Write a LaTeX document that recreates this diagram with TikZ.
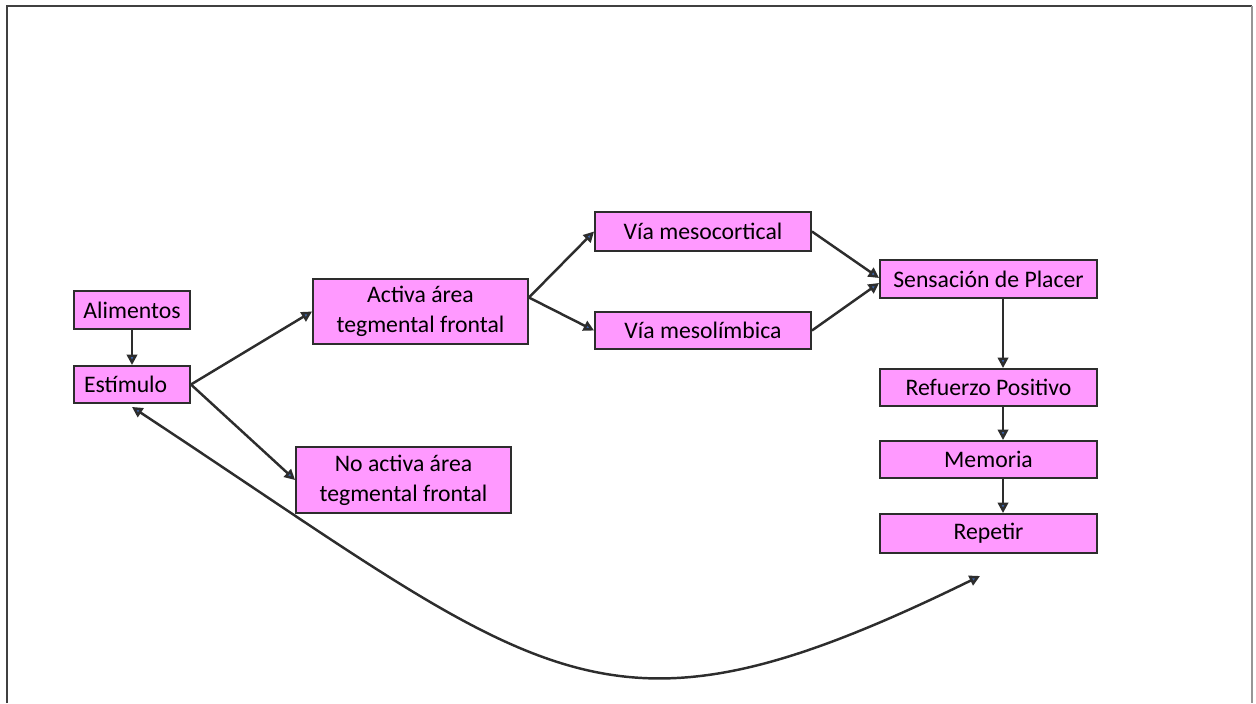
\documentclass[tikz,border=0pt]{standalone}
\usepackage{fontspec}
\setmainfont{Carlito}
\usetikzlibrary{arrows.meta}
\definecolor{boxfill}{RGB}{255,153,255}
\definecolor{boxline}{RGB}{45,45,45}
\definecolor{tipblue}{RGB}{60,100,170}
\definecolor{frameline}{RGB}{64,64,64}
\definecolor{frameside}{RGB}{150,150,150}
\begin{document}
\begin{tikzpicture}[x=0.02cm,y=-0.02cm,
  box/.style={draw=boxline,fill=boxfill,line width=1.1pt,inner sep=0pt,
    font=\fontsize{13.5}{17}\selectfont,align=center},
  tip/.style={Triangle[length=6pt,width=6pt,fill=tipblue]},
  conn/.style={draw=boxline,line width=1.4pt,-{Triangle[length=6pt,width=6pt,fill=tipblue]}},
  both/.style={draw=boxline,line width=1.4pt,
    {Triangle[length=6pt,width=6pt,fill=tipblue]}-{Triangle[length=6pt,width=6pt,fill=tipblue]}}]
\useasboundingbox (0,0) rectangle (1256,703);
% page frame
\draw[frameline,line width=0.04cm] (7,703) -- (7,6) -- (1252,6);
\draw[frameside,line width=0.04cm] (1252,6) -- (1252,703);

% boxes
\node[box,minimum width=2.32cm,minimum height=0.76cm] (ali) at (132,310) {Alimentos};
\node[box,minimum width=2.32cm,minimum height=0.74cm,text width=1.92cm,align=left] (est) at (132,384.5) {Estímulo};
\node[box,minimum width=4.30cm,minimum height=1.30cm] (act) at (420.5,311.5) {Activa área\\tegmental frontal};
\node[box,minimum width=4.30cm,minimum height=1.32cm] (noact) at (403.5,480) {No activa área\\tegmental frontal};
\node[box,minimum width=4.32cm,minimum height=0.78cm] (meso) at (703,231.5) {Vía mesocortical};
\node[box,minimum width=4.32cm,minimum height=0.74cm] (limb) at (703,330.5) {Vía mesolímbica};
\node[box,minimum width=4.34cm,minimum height=0.76cm] (sens) at (988.5,279) {Sensación de Placer};
\node[box,minimum width=4.34cm,minimum height=0.74cm] (ref) at (988.5,387.5) {Refuerzo Positivo};
\node[box,minimum width=4.34cm,minimum height=0.74cm] (mem) at (988.5,459.5) {Memoria};
\node[box,minimum width=4.34cm,minimum height=0.78cm] (rep) at (988.5,533.5) {Repetir};

% column of the vertical arrows and loose end of the return curve
\coordinate (col) at (1003,0);
\coordinate (back) at (980,576);

% connectors
\draw[conn] (ali.south) -- (est.north);
\draw[conn] (est.east) -- (act.west);
\draw[conn] (est.east) -- (noact.west);
\draw[conn] ([yshift=0.28cm]act.east) -- (meso.west);
\draw[conn] ([yshift=0.28cm]act.east) -- (limb.west);
\draw[conn] (meso.east) -- ([yshift=0.02cm]sens.west);
\draw[conn] (limb.east) -- ([yshift=-0.08cm]sens.west);
\draw[conn] (sens.south -| col) -- (ref.north -| col);
\draw[conn] (ref.south -| col) -- (mem.north -| col);
\draw[conn] (mem.south -| col) -- (rep.north -| col);
\draw[both] (back) .. controls (600,762) and (551,683) .. ([yshift=-0.06cm]est.south);
\end{tikzpicture}
\end{document}
